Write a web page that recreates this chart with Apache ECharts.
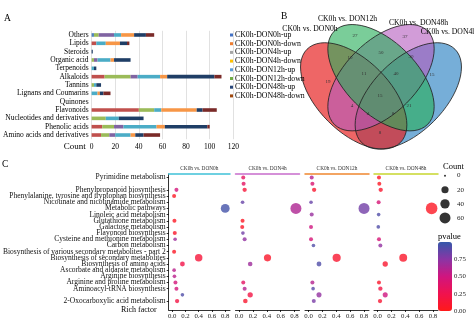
<!DOCTYPE html>
<html><head><meta charset="utf-8">
<script src="https://cdn.jsdelivr.net/npm/echarts@6/dist/echarts.min.js"></script>
<style>html,body{margin:0;padding:0;background:#fff}#c{width:474px;height:323px}</style>
</head><body><div id="c"></div>
<script>
// ---------- Panel A data ----------
const classCats = ['Others','Lipids','Steroids','Organic acid','Terpenoids','Alkaloids','Tannins','Lignans and Coumarins','Quinones','Flavonoids','Nucleotides and derivatives','Phenolic acids','Amino acids and derivatives'];
const classSeriesNames = ['CK0h-DON0h-up','CK0h-DON0h-down','CK0h-DON4h-up','CK0h-DON4h-down','CK0h-DON12h-up','CK0h-DON12h-down','CK0h-DON48h-up','CK0h-DON48h-down'];
const don0hUp    = [2,0,0,0,0,0,0,0,0,0,0,0,0];
const don0hDown  = [0,4,0,0,0,11,0,0,0,40,0,9,8];
const don4hUp    = [4,0,0,2,0,22,2,0,0,13,12,10,7];
const don4hDown  = [13,0,0,3,0,6,0,0,0,0,0,8,5];
const don12hUp   = [6,8,0,11,2,19,2,5,0,6,11,28,13];
const don12hDown = [11,12,0,3,0,6,0,2,0,30,0,7,4];
const don48hUp   = [10,6,1,14,2,40,4,3,0,5,21,36,7];
const don48hDown = [7,2,0,0,0,6,0,6,0,12,0,2,14];
const classSeries = [don0hUp,don0hDown,don4hUp,don4hDown,don12hUp,don12hDown,don48hUp,don48hDown];

// ---------- Panel B data ----------
const vennSetNames = ['CK0h vs. DON0h','CK0h vs. DON12h','CK0h vs. DON48h','CK0h vs. DON4h'];
const vennCounts = [19,27,37,15,10,50,30,11,40,15,4,4,8,21,8];

// ---------- Panel C data ----------
const pathways = ['Pyrimidine metabolism','Purine metabolism','Phenylpropanoid biosynthesis','Phenylalanine, tyrosine and tryptophan biosynthesis','Nicotinate and nicotinamide metabolism','Metabolic pathways','Linoleic acid metabolism','Glutathione metabolism','Galactose metabolism','Flavonoid biosynthesis','Cysteine and methionine metabolism','Carbon metabolism','Biosynthesis of various secondary metabolites - part 2','Biosynthesis of secondary metabolites','Biosynthesis of amino acids','Ascorbate and aldarate metabolism','Arginine biosynthesis','Arginine and proline metabolism','Aminoacyl-tRNA biosynthesis','ABC transporters','2-Oxocarboxylic acid metabolism'];
const facetNames = ['CK0h vs. DON0h','CK0h vs. DON4h','CK0h vs. DON12h','CK0h vs. DON48h'];
// [pathway index, rich factor, count, pvalue]
const enrichDON0h = [[2,0.065,3,0.48],[3,0.03,3,0.05],[5,0.80,35,0.96],[7,0.035,3,0.05],[9,0.04,3,0.08],[10,0.045,2,0.68],[12,0.03,3,0.06],[13,0.40,22,0.15],[14,0.155,6,0.22],[15,0.03,2,0.58],[16,0.035,2,0.58],[17,0.05,3,0.48],[18,0.065,3,0.48],[19,0.155,2,0.92],[20,0.075,4,0.2]];
const enrichDON4h = [[0,0.06,3,0.35],[1,0.065,3,0.35],[2,0.08,4,0.15],[4,0.05,2,0.85],[5,0.82,60,0.62],[7,0.05,3,0.05],[8,0.045,3,0.08],[9,0.055,2,0.82],[10,0.08,3,0.72],[13,0.41,20,0.08],[14,0.16,5,0.68],[17,0.06,3,0.35],[18,0.08,3,0.6],[19,0.16,8,0.2],[20,0.09,5,0.1]];
const enrichDON12h = [[0,0.045,3,0.6],[1,0.055,3,0.42],[2,0.08,4,0.1],[4,0.035,2,0.85],[5,0.80,60,0.82],[6,0.045,3,0.7],[8,0.035,3,0.5],[10,0.035,3,0.45],[11,0.07,2,0.92],[13,0.405,28,0.1],[14,0.15,6,0.92],[17,0.055,3,0.6],[18,0.065,2,0.9],[19,0.15,7,0.72],[20,0.075,3,0.8]];
const enrichDON48h = [[0,0.02,3,0.05],[1,0.025,3,0.05],[2,0.045,4,0.1],[4,0.015,3,0.45],[5,0.78,68,0.05],[6,0.015,2,0.92],[8,0.01,2,0.92],[10,0.02,3,0.45],[11,0.04,3,0.72],[13,0.37,26,0.08],[14,0.11,8,0.1],[17,0.02,3,0.08],[18,0.04,4,0.2],[19,0.11,7,0.5],[20,0.035,4,0.12]];
const enrichData = [enrichDON0h,enrichDON4h,enrichDON12h,enrichDON48h];
const richTicks = [0,0.2,0.4,0.6,0.8];
const countLegend = [0,20,40,60];
const pvalueTicks = [0,0.25,0.5,0.75];

// ---------- styles / layout ----------
const FONT = '"Liberation Serif","Times New Roman",serif';
const barColors = ['#4F81BD','#C0504D','#9BBB59','#8064A2','#4BACC6','#F79646','#1F3E66','#7A2A28'];
const legendColors = ['#4472C4','#ED7D31','#A5A5A5','#FFC000','#5B9BD5','#70AD47','#264478','#9E480E'];
const stripColors = ['#3FC1D8','#C86CCB','#F0862F','#C8D62F'];
const pColors = ['#FF1A1A','#F0124E','#D0157F','#8A35A5','#3558AA'];
const facetLeft = [166,235.5,305,374];
const sizeOf = c => 2 + Math.sqrt(c/60)*9;

// drawing order: DON4h (blue), DON0h (red), DON48h (purple), DON12h (green)
const vennShapes = [
  {cx:408.3, cy:95.9, rot:45, fill:'rgba(60,140,200,0.7)'},
  {cx:353.7, cy:95.9, rot:-45, fill:'rgba(230,30,30,0.68)'},
  {cx:381, cy:77.7, rot:45, fill:'rgba(180,90,190,0.6)'},
  {cx:381, cy:77.7, rot:-45, fill:'rgba(40,175,90,0.62)'}
];
const vennLabelPos = [[328,82],[355,36],[405,37],[432,75],[350,58],[381,53],[411,57],[364,74],[396,74],[380,96],[352,106],[368,114],[393,114],[409,106],[380,133]];
const vennNamePos = [[310,29],[347.5,19],[418.5,22.5],[448.5,31.5]];

function txt(x,y,text,size,align,color){
  return {type:'text', x:x, y:y, silent:true, style:{text:text, fontSize:size, fontFamily:FONT, fill:color||'#000', textAlign:align||'left', textVerticalAlign:'middle', align:align||'left', verticalAlign:'middle'}};
}

const graphic = [];
graphic.push(txt(4,18,'A',9.5));
graphic.push(txt(281,16,'B',9.5));
graphic.push(txt(2,164,'C',9.5));
graphic.push(txt(443,167,'Count',8.5));
graphic.push(txt(438,237,'pvalue',8.5));
vennShapes.forEach(s=>graphic.push({type:'ellipse', x:s.cx, y:s.cy, rotation:s.rot*Math.PI/180, silent:true, shape:{cx:0,cy:0,rx:66,ry:36}, style:{fill:s.fill, stroke:'none'}}));
vennShapes.forEach(s=>graphic.push({type:'ellipse', x:s.cx, y:s.cy, rotation:s.rot*Math.PI/180, silent:true, shape:{cx:0,cy:0,rx:66,ry:36}, style:{fill:'none', stroke:'#222', lineWidth:0.8}}));
vennCounts.forEach((c,i)=>graphic.push(txt(vennLabelPos[i][0],vennLabelPos[i][1],String(c),5,'center','#333')));
vennSetNames.forEach((n,i)=>graphic.push(txt(vennNamePos[i][0],vennNamePos[i][1],n,7.7,'center')));

const grid = [{left:89, top:30.8, width:144.3, height:108.4}];
facetLeft.forEach(l=>grid.push({left:l, top:174, width:64, height:136}));
grid.push({left:438, top:168.6, width:14, height:56.4});
grid.push({left:438, top:242, width:14, height:69});

const xAxis = [{
  type:'value', gridIndex:0, min:0, max:120, interval:20,
  axisLine:{show:false}, axisTick:{show:false},
  splitLine:{show:true, lineStyle:{color:'#d9d9d9', width:0.8}},
  axisLabel:{fontSize:7.5, fontFamily:FONT, color:'#000', margin:4},
  name:'Count', nameLocation:'start', nameGap:4,
  nameTextStyle:{fontSize:9, fontFamily:FONT, color:'#000', verticalAlign:'top', padding:[3,0,0,0]}
}];
facetLeft.forEach((l,i)=>{
  const ax = {
    type:'value', gridIndex:i+1, min:-0.052, max:0.872,
    axisLine:{show:true, onZero:false, lineStyle:{color:'#000', width:0.8}},
    axisTick:{show:true, length:2, customValues:richTicks, lineStyle:{color:'#000', width:0.8}},
    axisLabel:{customValues:richTicks, showMinLabel:true, showMaxLabel:true, formatter:v=>Number(v).toFixed(1), fontSize:6.8, fontFamily:FONT, color:'#222', margin:3},
    splitLine:{show:false}
  };
  if(i===0){ax.name='Rich factor'; ax.nameLocation='start'; ax.nameGap=12; ax.nameTextStyle={fontSize:8, fontFamily:FONT, color:'#000'};}
  xAxis.push(ax);
});
facetLeft.forEach((l,i)=>{
  xAxis.push({
    type:'value', gridIndex:i+1, position:'top', min:-0.052, max:0.872,
    axisLine:{show:true, onZero:false, lineStyle:{color:stripColors[i], width:1.5}},
    axisTick:{show:false}, axisLabel:{show:false}, splitLine:{show:false},
    name:facetNames[i], nameLocation:'middle', nameGap:3,
    nameTextStyle:{fontSize:5.3, fontFamily:FONT, color:'#333'}
  });
});
xAxis.push({type:'value', gridIndex:5, min:0, max:1, show:false});
xAxis.push({type:'value', gridIndex:6, min:0, max:1, show:false});

const yAxis = [{
  type:'category', gridIndex:0, data:classCats, inverse:true,
  axisLine:{show:false}, axisTick:{show:false},
  axisLabel:{interval:0, fontSize:7.5, fontFamily:FONT, color:'#000', margin:3}
}];
const rowIdx = pathways.map((p,i)=>i);
facetLeft.forEach((l,i)=>{
  yAxis.push({
    type:'value', gridIndex:i+1, inverse:true, min:-0.57, max:21.45, show:i===0,
    axisLine:{show:true, onZero:false, lineStyle:{color:'#000', width:0.8}},
    axisTick:{show:true, length:2, customValues:rowIdx, lineStyle:{color:'#000', width:0.8}},
    axisLabel:{customValues:rowIdx, showMinLabel:true, showMaxLabel:true, hideOverlap:false, formatter:v=>pathways[Math.round(v)], fontSize:7.5, fontFamily:FONT, color:'#111', margin:3},
    splitLine:{show:false}
  });
});
yAxis.push({
  type:'category', gridIndex:5, data:countLegend.map(String), inverse:true, position:'right',
  axisLine:{show:false}, axisTick:{show:false},
  axisLabel:{interval:0, fontSize:7, fontFamily:FONT, color:'#222', margin:5}
});
yAxis.push({
  type:'value', gridIndex:6, min:0, max:1, position:'right',
  axisLine:{show:false},
  axisTick:{show:true, inside:true, length:3, customValues:pvalueTicks, lineStyle:{color:'#fff', width:0.8}},
  axisLabel:{customValues:pvalueTicks, showMinLabel:true, formatter:v=>Number(v).toFixed(2), fontSize:6.8, fontFamily:FONT, color:'#222', margin:2},
  splitLine:{show:false}
});

const series = [];
classSeriesNames.forEach((n,i)=>series.push({
  name:n, type:'bar', stack:'cls', xAxisIndex:0, yAxisIndex:0, barWidth:3.6,
  data:classSeries[i], itemStyle:{color:barColors[i]}, silent:true
}));
enrichData.forEach((arr,i)=>series.push({
  type:'scatter', xAxisIndex:i+1, yAxisIndex:i+1, silent:true,
  data:arr.map(d=>[d[1],d[0],d[2],d[3]]),
  symbolSize:v=>sizeOf(v[2])
}));
series.push({
  type:'scatter', xAxisIndex:9, yAxisIndex:5, silent:true,
  data:countLegend.map((c,i)=>[0.5,i,c]),
  symbolSize:v=>sizeOf(v[2]), itemStyle:{color:'#000'}
});

const option = {
  animation:false,
  backgroundColor:'#fff',
  textStyle:{fontFamily:FONT},
  grid:grid, xAxis:xAxis, yAxis:yAxis, series:series,
  legend:{
    orient:'vertical', left:230, top:30.65, padding:0, itemGap:0, itemWidth:3, itemHeight:3,
    icon:'rect', selectedMode:false,
    textStyle:{fontSize:7.8, lineHeight:8.7, fontFamily:FONT, color:'#000', padding:[0,0,0,-3]},
    data:classSeriesNames.map((n,i)=>({name:n, itemStyle:{color:legendColors[i]}}))
  },
  visualMap:{
    type:'continuous', min:0, max:1, dimension:3, seriesIndex:[8,9,10,11],
    inRange:{color:pColors}, left:438, top:242, itemWidth:14, itemHeight:69,
    padding:0, calculable:false, hoverLink:false, orient:'vertical'
  },
  graphic:graphic
};
const chart = echarts.init(document.getElementById('c'), null, {renderer:'canvas', width:474, height:323});
chart.setOption(option);
</script>
</body></html>
